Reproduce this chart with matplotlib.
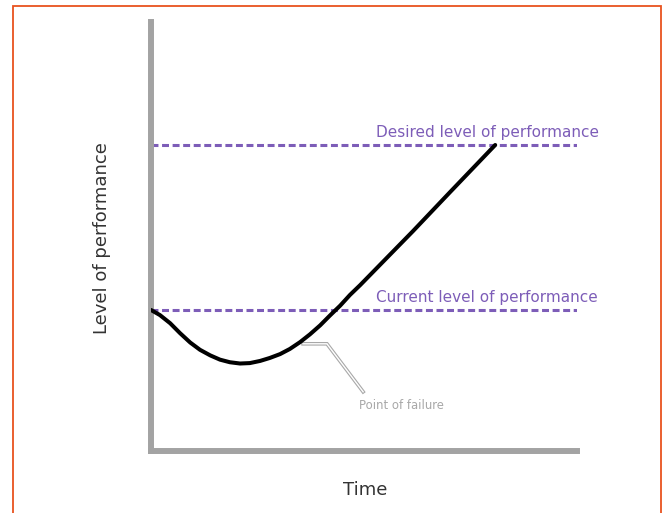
import matplotlib.pyplot as plt
from matplotlib.patches import Rectangle

# performance curve over time (0-100 both axes)
time_pts = [0, 2.1, 4.5, 6.8, 9.2, 11.5, 13.9, 16.2, 18.5, 20.9, 23.2, 25.6,
            27.9, 30.3, 32.6, 35.0, 37.3, 39.7, 42.0, 44.4, 46.7, 49.1,
            61.5, 70.2, 80.8]
perf_pts = [32.8, 31.6, 29.7, 27.4, 25.2, 23.5, 22.2, 21.2, 20.6, 20.3, 20.4, 20.9,
            21.6, 22.5, 23.7, 25.3, 27.1, 29.2, 31.5, 33.8, 36.3, 38.6,
            51.2, 60.3, 71.3]

current_level = 32.8
desired_level = 71.3
levels = [("Desired level of performance", desired_level),
          ("Current level of performance", current_level)]

# callout for the point of failure
callout_t = [35.7, 41.3, 49.8]
callout_p = [24.9, 24.9, 13.7]
failure_label = "Point of failure"

plt.rcParams['lines.scale_dashes'] = False
AXIS_GREY = '#a3a3a3'
PURPLE = '#7d5db8'

fig = plt.figure(figsize=(6.62, 5.13), dpi=100)
fig.patch.set_facecolor('white')

# orange frame round the picture
fig.patches.append(Rectangle((13 / 662, -0.05), 648 / 662, 1.05 - 6.5 / 513,
                             transform=fig.transFigure, fill=False,
                             edgecolor='#e8531f', lw=1.3))

ax = fig.add_axes([151 / 662, (513 - 450.5) / 513, 426 / 662, 428.5 / 513])
ax.set_xlim(0, 100)
ax.set_ylim(0, 100)
ax.set_xticks([])
ax.set_yticks([])
for s in ['top', 'right']:
    ax.spines[s].set_visible(False)
for s in ['left', 'bottom']:
    ax.spines[s].set_color(AXIS_GREY)
    ax.spines[s].set_linewidth(4.3)
    ax.spines[s].set_capstyle('projecting')

for label, lvl in levels:
    ax.axhline(lvl, color=PURPLE, lw=2.2, dashes=(5, 2.6), zorder=2)
    ax.text(52.8, lvl + 2.9, label, color=PURPLE, fontsize=11,
            ha='left', va='center', clip_on=False)

ax.plot(time_pts, perf_pts, color='black', lw=2.9, solid_joinstyle='round',
        solid_capstyle='round', zorder=4)

ax.plot(callout_t, callout_p, color='#a8a8a8', lw=2.6, zorder=3,
        solid_joinstyle='miter')
ax.plot(callout_t, callout_p, color='white', lw=1.0, zorder=3,
        solid_joinstyle='miter')
ax.text(48.8, 10.6, failure_label, color='#a8a8a8', fontsize=8.4,
        ha='left', va='center')

fig.text(102 / 662, 1 - 238 / 513, "Level of performance", rotation=90,
         fontsize=13, color='#333333', ha='center', va='center')
fig.text(365 / 662, 1 - 490 / 513, "Time", fontsize=13, color='#333333',
         ha='center', va='center')

fig.savefig('out.png', dpi=100)
